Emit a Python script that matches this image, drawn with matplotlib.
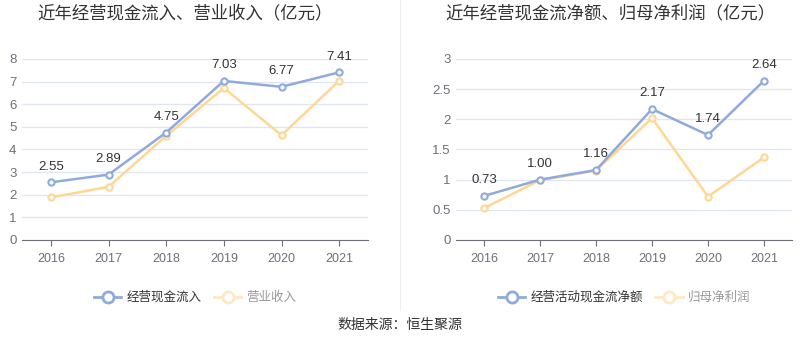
import numpy as np
import matplotlib.pyplot as plt
from matplotlib.lines import Line2D

plt.rcParams['font.family'] = ['Liberation Sans', 'Noto Sans CJK SC', 'DejaVu Sans']

years = ["2016", "2017", "2018", "2019", "2020", "2021"]

# left chart
cash_in = [2.55, 2.89, 4.75, 7.03, 6.77, 7.41]
revenue = [1.88, 2.35, 4.60, 6.72, 4.63, 7.04]

# right chart
net_cash = [0.73, 1.00, 1.16, 2.17, 1.74, 2.64]
net_profit = [0.53, 0.99, 1.15, 2.02, 0.72, 1.37]

blue = "#8faadc"
yellow = "#ffd794"

fig = plt.figure(figsize=(8, 3.58), dpi=100)
ax1 = fig.add_axes([22/800, 1-240/358, 346/800, 181/358])
ax2 = fig.add_axes([456/800, 1-240/358, 336/800, 181/358])

def draw(ax, a, b, ymax, yticks, ylabels, names, title, title_x):
    x = np.arange(len(years))
    ax.plot(x, b, color=yellow, lw=1.8, marker="o", ms=4.5, mfc="white", mew=1.5, zorder=3)
    ax.plot(x, a, color=blue, lw=1.8, marker="o", ms=4.5, mfc="white", mew=1.5, zorder=4)
    for xi, v in zip(x, a):
        ax.annotate(f"{v:.2f}", (xi, v), xytext=(0, 7), textcoords="offset points",
                    ha="center", va="bottom", fontsize=9.5, color="#333333")
    ax.set_xlim(-0.5, len(years) - 0.5)
    ax.set_ylim(0, ymax)
    ax.set_xticks(x)
    ax.set_xticklabels(years)
    ax.set_yticks(yticks)
    ax.set_yticklabels(ylabels)
    ax.grid(axis="y", color="#e0e6f1", lw=0.9)
    ax.set_axisbelow(True)
    for s in ["top", "right", "left"]:
        ax.spines[s].set_visible(False)
    ax.spines["bottom"].set_color("#6e7079")
    ax.tick_params(axis="y", length=0, colors="#6e7079", labelsize=9.5, pad=4)
    ax.tick_params(axis="x", length=4, color="#6e7079", colors="#6e7079", labelsize=9, pad=5)
    handles = [Line2D([], [], color=blue, lw=2, marker="o", ms=8, mfc="white", mew=2),
               Line2D([], [], color="#ffe8c4", lw=2, marker="o", ms=8, mfc="white", mew=2)]
    leg = ax.legend(handles, names, loc="center", bbox_to_anchor=(0.5, -0.32), ncol=2,
                    frameon=False, fontsize=9, handlelength=2.2, handletextpad=0.4,
                    columnspacing=1.0)
    leg.get_texts()[0].set_color("#333333")
    leg.get_texts()[1].set_color("#999999")
    fig.text(title_x, 1-13/358, title, ha="center", va="center", fontsize=12.5, color="#333333")

draw(ax1, cash_in, revenue, 8, range(0, 9), [str(i) for i in range(0, 9)],
     ["经营现金流入", "营业收入"], "近年经营现金流入、营业收入（亿元）", 185/800)
draw(ax2, net_cash, net_profit, 3, [0, 0.5, 1, 1.5, 2, 2.5, 3],
     ["0", "0.5", "1", "1.5", "2", "2.5", "3"],
     ["经营活动现金流净额", "归母净利润"], "近年经营现金流净额、归母净利润（亿元）", 610/800)

fig.add_artist(Line2D([400/800, 400/800], [1-310/358, 1.0], color="#eeeeee", lw=0.8))
fig.text(0.5, 1-325/358, "数据来源：恒生聚源", ha="center", va="center", fontsize=10, color="#333333")

fig.savefig("out.png", dpi=100, facecolor="white")
